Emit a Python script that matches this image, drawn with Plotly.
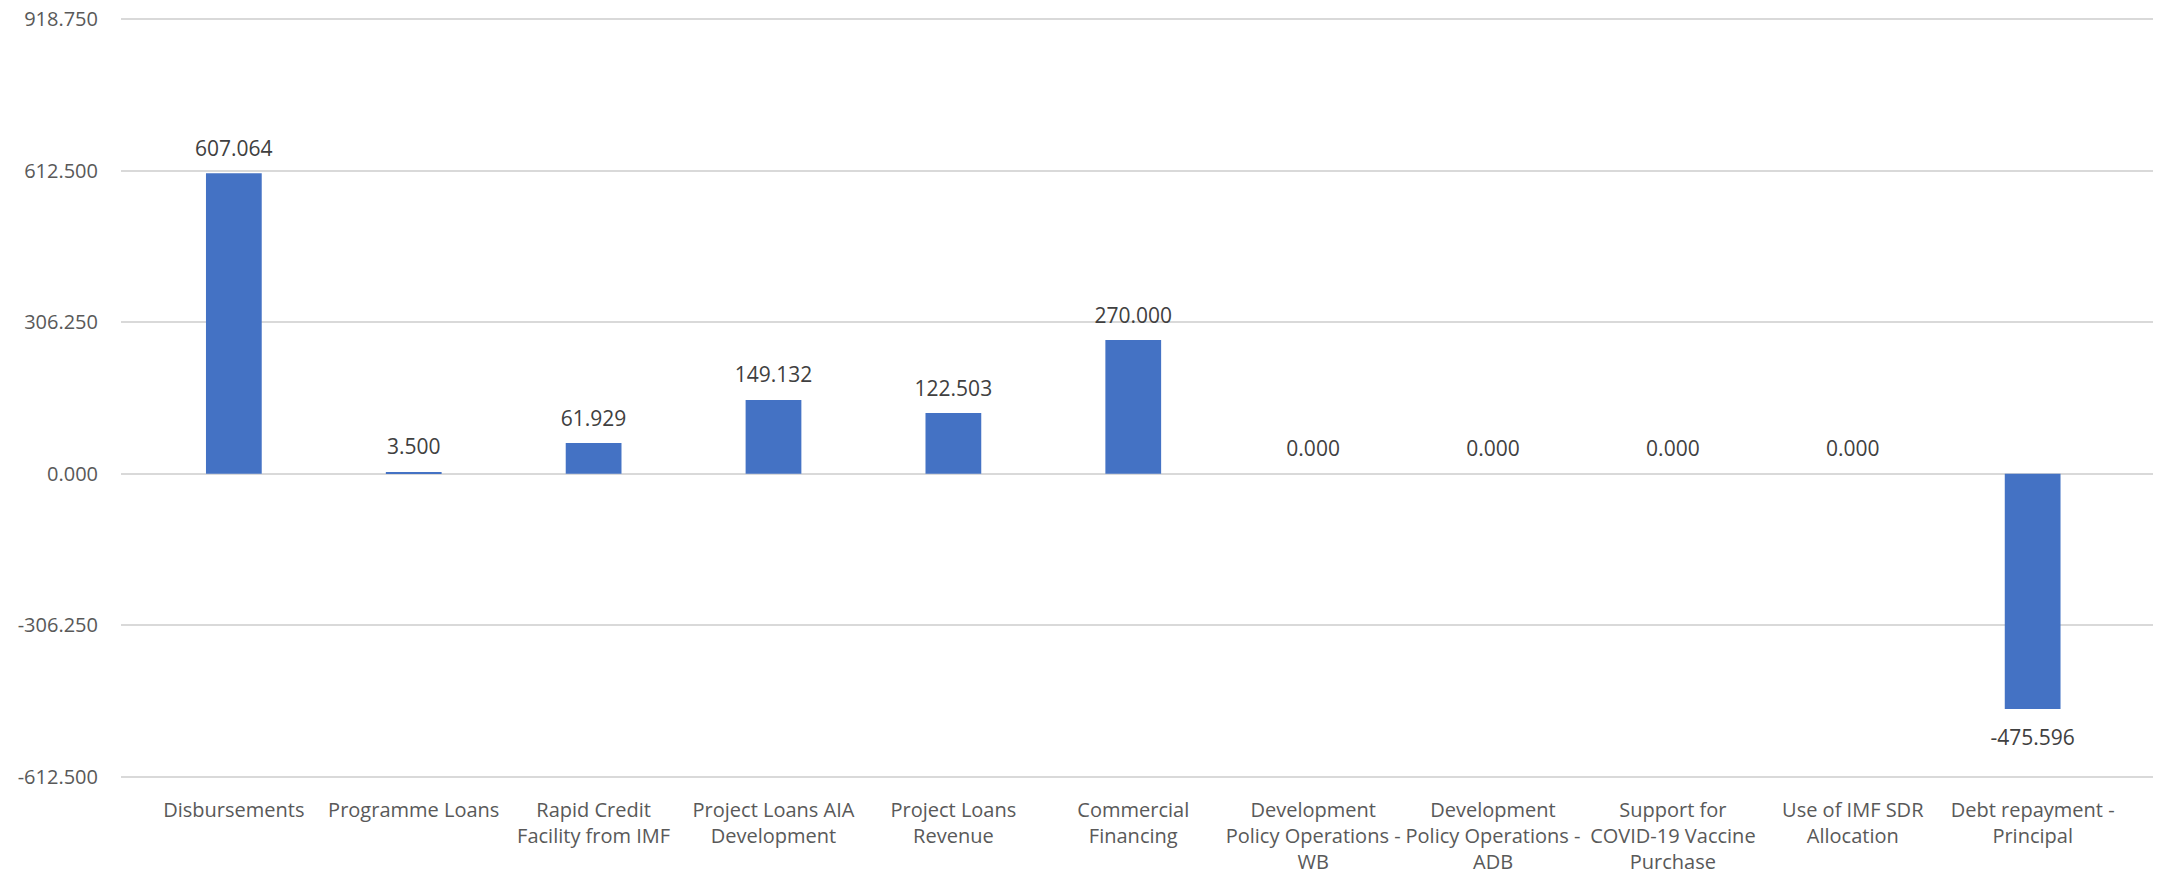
import plotly.graph_objects as go

categories = [
    "Disbursements",
    "Programme Loans",
    "Rapid Credit<br>Facility from IMF",
    "Project Loans AIA<br>Development",
    "Project Loans<br>Revenue",
    "Commercial<br>Financing",
    "Development<br>Policy Operations -<br>WB",
    "Development<br>Policy Operations -<br>ADB",
    "Support for<br>COVID-19 Vaccine<br>Purchase",
    "Use of IMF SDR<br>Allocation",
    "Debt repayment -<br>Principal",
]
values = [607.064, 3.500, 61.929, 149.132, 122.503, 270.000, 0.000, 0.000, 0.000, 0.000, -475.596]
y_ticks = [-612.5, -306.25, 0.0, 306.25, 612.5, 918.75]

FONT = "Open Sans"
TXT = "#595959"
FS_X = 20
FS_Y = 20
FS_NUM = 21

fig = go.Figure()
fig.add_trace(go.Bar(
    x=categories, y=values, width=0.31,
    marker=dict(color="#4472C4", line=dict(width=0)),
    hoverinfo="x+y", showlegend=False,
))
fig.add_trace(go.Scatter(
    x=categories, y=values, mode="markers+text",
    marker=dict(size=[30 if v < 0 else 18 for v in values],
                color="rgba(0,0,0,0)", line=dict(width=0, color="rgba(0,0,0,0)")),
    text=[f"{v:.3f}" for v in values],
    textposition=["bottom center" if v < 0 else "top center" for v in values],
    textfont=dict(family=FONT, size=FS_NUM, color="#404040"),
    showlegend=False, hoverinfo="skip", cliponaxis=False,
))

# page body has an 8px default margin, so the figure is sized to fit the window
fig.update_layout(
    width=2157, height=869,
    margin=dict(l=113, r=12, t=8, b=94),
    paper_bgcolor="white", plot_bgcolor="white",
    font=dict(family=FONT, size=FS_X, color=TXT),
)
fig.update_xaxes(
    showgrid=False, showline=False, ticks="", tickfont=dict(size=FS_X, color=TXT),
    ticklabelstandoff=13, tickangle=0, automargin=False,
)
fig.update_yaxes(
    range=[-625, 925], tickvals=y_ticks,
    ticktext=[f"{t:.3f}" for t in y_ticks],
    showgrid=True, gridcolor="#D9D9D9", gridwidth=2,
    zeroline=True, zerolinecolor="#D9D9D9", zerolinewidth=2,
    showline=False, ticks="", tickfont=dict(size=FS_Y, color=TXT),
    ticklabelstandoff=22, automargin=False, ticklabeloverflow="allow",
)
fig.write_html("out.html")
